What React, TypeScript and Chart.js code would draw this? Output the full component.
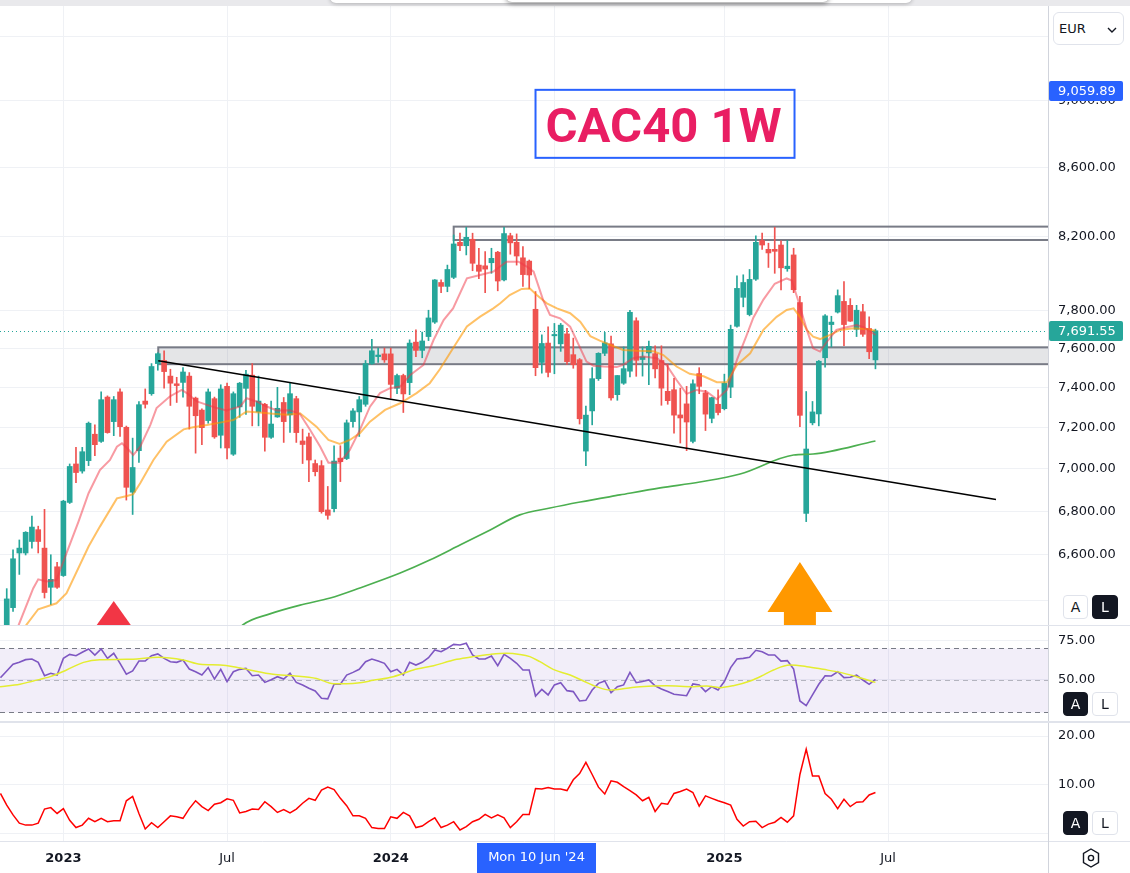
import React, { useEffect, useRef } from 'react';
import { Chart, registerables } from 'chart.js';

Chart.register(...registerables);

// ---------------- data ----------------
// week index: 0 = week of Mon 2 Jan 2023; first candle = week of Mon 31 Oct 2022
const FIRST_WEEK = -9;

const opens = [
  6250, 6367, 6609, 6609, 6661, 6715, 6631, 6456, 6547,
  6508, 6841, 7023, 6989, 7039, 7167, 7132, 7351, 7229, 7377,
  7201, 6889, 7087, 7331, 7368, 7521, 7537, 7457, 7418, 7425,
  7457, 7346, 7286, 7234, 7343, 7162, 7405, 7070, 7302, 7395,
  7462, 7277, 7315, 7152, 7252, 7324, 7262, 7343, 7134, 7154,
  7025, 7015, 6806, 6812, 7051, 7049, 7229, 7277, 7315, 7521,
  7557, 7571, 7571, 7395, 7460, 7424, 7632, 7589, 7661, 7737,
  7949, 7928, 7977, 8170, 8151, 8187, 8044, 8040, 8057, 8115,
  7963, 8207, 8170, 8084, 8066, 7805, 7527, 7627, 7665, 7623,
  7675, 7567, 7541, 7085, 7282, 7444, 7574, 7623, 7363, 7421,
  7482, 7744, 7542, 7576, 7572, 7537, 7380, 7388, 7262, 7317,
  7132, 7470, 7372, 7245, 7315, 7293, 7401, 7715, 7869, 7777,
  7967, 8180, 8131, 8131, 8155, 8024, 8100, 7841, 6790, 7223,
  7267, 7551, 7724, 7790, 7847, 7826, 7699, 7792, 7703, 7540,
];
const highs = [
  6450, 6623, 6668, 6706, 6778, 6731, 6809, 6601, 6567,
  6851, 7023, 7103, 7103, 7227, 7213, 7377, 7357, 7354, 7392,
  7207, 7148, 7329, 7392, 7521, 7577, 7587, 7492, 7451, 7500,
  7475, 7351, 7292, 7392, 7351, 7413, 7421, 7377, 7425, 7487,
  7521, 7457, 7320, 7331, 7400, 7349, 7424, 7355, 7192, 7172,
  7042, 7039, 6916, 7111, 7111, 7237, 7293, 7354, 7537, 7647,
  7601, 7601, 7601, 7467, 7467, 7644, 7696, 7684, 7800, 7965,
  7963, 8044, 8211, 8221, 8254, 8221, 8137, 8118, 8137, 8120,
  8254, 8221, 8217, 8146, 8072, 7900, 7670, 7712, 7730, 7730,
  7704, 7653, 7547, 7306, 7500, 7577, 7683, 7664, 7460, 7607,
  7800, 7760, 7607, 7638, 7613, 7613, 7519, 7446, 7396, 7405,
  7438, 7500, 7385, 7350, 7388, 7467, 7721, 7985, 7991, 8020,
  8206, 8221, 8165, 8254, 8178, 8180, 8137, 7874, 7379, 7329,
  7537, 7777, 7768, 7909, 7954, 7862, 7826, 7831, 7765, 7700,
];
const lows = [
  6200, 6351, 6513, 6600, 6631, 6609, 6409, 6380, 6451,
  6504, 6836, 6934, 6979, 7015, 7063, 7127, 7172, 7160, 7156,
  6852, 6785, 7031, 7296, 7360, 7487, 7396, 7309, 7324, 7351,
  7192, 7075, 7116, 7221, 7147, 7100, 7047, 7064, 7250, 7265,
  7208, 7208, 7085, 7147, 7250, 7127, 7176, 7127, 7025, 6939,
  6966, 6791, 6763, 6797, 6939, 7044, 7201, 7156, 7305, 7517,
  7527, 7527, 7346, 7368, 7274, 7363, 7557, 7551, 7640, 7730,
  7894, 7899, 7970, 8124, 8100, 8013, 7970, 7894, 7999, 7904,
  7957, 8104, 8044, 7928, 7915, 7459, 7472, 7453, 7469, 7584,
  7517, 7497, 7217, 7015, 7213, 7435, 7562, 7335, 7335, 7415,
  7453, 7456, 7457, 7413, 7448, 7310, 7315, 7172, 7124, 7087,
  7125, 7368, 7185, 7223, 7262, 7287, 7348, 7710, 7818, 7770,
  7960, 8131, 8031, 7999, 7909, 8010, 7894, 7204, 6752, 7213,
  7208, 7502, 7607, 7785, 7613, 7740, 7661, 7662, 7546, 7494,
];
const closes = [
  6405, 6583, 6631, 6703, 6727, 6661, 6433, 6491, 6456,
  6847, 7011, 6982, 7082, 7221, 7116, 7338, 7175, 7338, 7204,
  6912, 7006, 7313, 7315, 7506, 7572, 7480, 7421, 7409, 7478,
  7305, 7258, 7199, 7377, 7154, 7392, 7100, 7368, 7421, 7467,
  7305, 7331, 7152, 7217, 7295, 7229, 7368, 7175, 7117, 7042,
  6986, 6798, 6781, 7037, 7034, 7223, 7282, 7338, 7521, 7587,
  7565, 7540, 7415, 7460, 7367, 7627, 7589, 7638, 7759, 7963,
  7928, 8020, 8161, 8151, 8198, 8054, 8010, 8022, 8081, 7957,
  8219, 8167, 8094, 7992, 7990, 7500, 7625, 7476, 7672, 7721,
  7531, 7515, 7243, 7261, 7444, 7574, 7628, 7347, 7460, 7495,
  7789, 7538, 7556, 7610, 7494, 7396, 7333, 7261, 7247, 7227,
  7418, 7405, 7266, 7348, 7274, 7421, 7699, 7917, 7949, 7966,
  8170, 8155, 8111, 8120, 8029, 8038, 7910, 7260, 7095, 7277,
  7533, 7770, 7737, 7878, 7724, 7742, 7800, 7673, 7582, 7691.55,
];
const LAST_PRICE = 7691.55;

// fast moving average (pink), [week, price]
const emaFast: [number, number][] = [
  [-8.5, 6200], [-7.1, 6292], [-4.8, 6451], [-4.0, 6491], [-2.7, 6482], [-1.1, 6488], [0.5, 6608], [2.4, 6752],
  [4.0, 6884], [5.8, 6994], [7.4, 7042], [8.5, 7106], [9.3, 7123], [10.1, 7100], [11.1, 7066], [12.2, 7106],
  [13.8, 7212], [14.8, 7296], [16.9, 7354], [18.8, 7387], [19.6, 7371], [21.2, 7329], [22.8, 7312], [24.4, 7296],
  [25.9, 7284], [28.1, 7304], [29.1, 7345], [30.7, 7329], [32.3, 7304], [33.9, 7284], [36.0, 7285], [37.6, 7265],
  [39.2, 7188], [40.8, 7106], [42.1, 7029], [43.9, 7029], [45.5, 7090], [47.1, 7188], [48.7, 7303], [50.3, 7371],
  [51.9, 7396], [53.5, 7404], [55.1, 7463], [57.2, 7514], [58.8, 7643], [60.4, 7748], [61.9, 7810], [64.1, 7972],
  [66.2, 7990], [68.3, 8008], [70.4, 8063], [72.3, 8063], [73.6, 8036], [74.7, 8008], [76.2, 7855], [77.3, 7775],
  [78.9, 7757], [80.5, 7713], [81.5, 7643], [83.1, 7531], [84.2, 7510], [85.8, 7506], [87.9, 7503], [88.9, 7514],
  [90.5, 7549], [92.1, 7557], [94.3, 7549], [95.8, 7514], [97.4, 7437], [99.0, 7367], [100.6, 7387], [102.2, 7378],
  [103.8, 7340], [105.4, 7387], [107.0, 7540], [108.5, 7665], [109.6, 7760], [111.2, 7857], [113.0, 7942], [114.9, 7971],
  [115.7, 7960], [116.7, 7855], [118.1, 7696], [119.1, 7600], [120.2, 7583], [121.3, 7634], [122.8, 7696], [124.4, 7710],
  [126.0, 7722], [127.1, 7710], [128.1, 7690], [129.0, 7669],
];
// slow moving average (orange)
const emaSlow: [number, number][] = [
  [-7.0, 6230], [-5.9, 6292], [-4.0, 6360], [-1.1, 6386], [0.5, 6430], [4.0, 6638], [5.8, 6729], [8.5, 6860],
  [10.1, 6871], [11.1, 6880], [12.2, 6931], [14.3, 7042], [16.4, 7131], [19.1, 7191], [20.6, 7201], [22.8, 7212],
  [24.9, 7224], [27.0, 7237], [29.1, 7279], [31.2, 7274], [33.3, 7268], [35.5, 7263], [37.6, 7270], [40.2, 7204],
  [42.1, 7139], [43.9, 7120], [45.5, 7139], [47.1, 7172], [48.7, 7229], [51.1, 7287], [53.5, 7320], [56.1, 7371],
  [58.2, 7421], [59.8, 7492], [61.9, 7600], [64.1, 7714], [66.2, 7766], [68.3, 7810], [69.4, 7837], [70.9, 7881],
  [72.8, 7914], [74.1, 7917], [75.2, 7881], [76.8, 7837], [78.4, 7810], [80.5, 7784], [82.1, 7739], [83.7, 7663],
  [85.2, 7640], [88.9, 7591], [91.1, 7587], [93.7, 7585], [95.3, 7565], [97.4, 7506], [99.5, 7469], [101.7, 7456],
  [103.8, 7426], [105.4, 7426], [107.0, 7514], [109.1, 7574], [111.2, 7696], [113.3, 7765], [114.9, 7801], [116.0, 7810],
  [117.0, 7765], [118.1, 7696], [119.1, 7661], [120.2, 7648], [121.8, 7670], [123.4, 7696], [125.5, 7705], [127.6, 7701],
  [129.0, 7692],
];
// long moving average (green)
const maLong: [number, number][] = [
  [27.5, 6260], [28.5, 6292], [32.8, 6340], [37.6, 6378], [42.4, 6409], [47.1, 6453], [53.5, 6519], [58.2, 6577],
  [63.0, 6645], [67.8, 6714], [72.5, 6783], [77.3, 6815], [82.1, 6843], [88.4, 6876], [94.8, 6909], [101.1, 6937],
  [107.5, 6975], [116.0, 7066], [119.1, 7071], [129.0, 7134],
];
// drawings
const trendLine: [number, number][] = [[15.07, 7536], [148.15, 6855]];
const supportZone = { fromWeek: 15.07, top: 7605, bottom: 7518 };
const highZone = { fromWeek: 62, top: 8258, bottom: 8183 };
const titleNote = { week: 75, price: 9059.89, text: 'CAC40 1W' };
const crosshairWeek = 75;
const crosshairText = "Mon 10 Jun '24";
const redMarker = { week: 8, price: 6396 };
const orangeArrow = { week: 117, price: 6568 };

// RSI pane, weekly from week -10
const RSI_START = -10;
const rsiValues = [
  51.5, 55.7, 59.9, 61.1, 62.8, 63.2, 61.1, 52.7, 54.2, 53.1,
  63.6, 66.1, 65.3, 67.4, 69.5, 65.7, 69.5, 63.6, 66.8, 60.5,
  53.6, 55.7, 61.9, 61.9, 65.3, 66.4, 63.6, 61.5, 61.1, 62.6,
  56.9, 55.2, 53.1, 57.8, 50.6, 56.7, 49.0, 55.2, 56.7, 57.3,
  52.7, 53.1, 48.5, 50.2, 52.1, 50.6, 54.2, 48.5, 46.9, 44.8,
  43.1, 38.5, 38.1, 47.3, 47.3, 53.1, 54.8, 56.7, 61.5, 63.2,
  61.9, 60.5, 55.2, 56.7, 53.1, 61.1, 59.4, 61.1, 64.0, 68.9,
  67.8, 70.0, 72.4, 72.0, 73.1, 65.7, 63.2, 63.2, 65.1, 59.0,
  66.1, 63.6, 60.5, 56.3, 56.3, 39.9, 44.1, 40.6, 46.9, 48.3,
  43.3, 42.7, 36.8, 37.2, 43.7, 47.9, 49.4, 42.0, 45.8, 46.9,
  54.8, 48.3, 49.0, 50.0, 46.4, 44.3, 42.7, 41.0, 40.6, 40.1,
  47.5, 46.9, 42.7, 45.8, 43.7, 49.0, 57.8, 63.2, 63.6, 64.3,
  68.7, 67.8, 65.7, 65.7, 61.9, 62.2, 56.9, 36.8, 33.9, 40.6,
  47.3, 52.7, 52.5, 55.2, 51.5, 51.7, 53.1, 50.0, 47.3, 50.4,
];
const rsiMa: [number, number][] = [
  [-10.07, 45.8], [-6.9, 47.3], [-4.8, 49.4], [-2.1, 52.1], [0.5, 56.3], [3.2, 61.1], [5.8, 62.8], [10.05, 63.0],
  [13.8, 64.0], [15.1, 64.3], [19.05, 62.6], [21.7, 59.9], [24.9, 59.4], [27.0, 58.4], [29.6, 56.3], [33.3, 53.6],
  [36.5, 52.7], [40.2, 51.0], [42.9, 47.7], [45.0, 47.7], [47.1, 48.3], [49.2, 49.8], [52.4, 52.1], [55.6, 56.3],
  [58.8, 59.0], [61.4, 61.9], [62.5, 63.0], [65.1, 64.7], [67.8, 66.1], [70.4, 66.8], [72.5, 66.1], [74.1, 64.7],
  [75.7, 61.5], [77.8, 56.7], [80.5, 53.1], [82.6, 49.4], [84.7, 45.8], [86.8, 43.7], [89.5, 44.8], [91.6, 45.8],
  [95.8, 46.4], [100.1, 45.8], [102.2, 46.2], [104.3, 45.2], [106.4, 46.4], [109.1, 49.4], [111.2, 53.1], [112.8, 56.3],
  [115.4, 59.4], [118.1, 58.4], [120.7, 56.7], [123.4, 54.8], [126.0, 52.1], [129.0, 48.5],
];
const rsiBands = { upper: 70, middle: 50, lower: 30 };

// lower indicator pane (red line), weekly from week -10
const LOWER_START = -10;
const lowerValues = [
  8.2, 5.8, 3.8, 2.1, 1.7, 1.7, 2.1, 5.0, 5.3, 4.1,
  5.1, 2.7, 1.2, 1.7, 3.1, 2.4, 3.1, 2.4, 2.6, 2.6,
  6.7, 7.6, 4.1, 0.9, 2.2, 1.2, 2.4, 3.6, 3.4, 3.1,
  5.1, 6.7, 5.5, 4.7, 6.0, 6.3, 7.1, 6.8, 4.2, 4.5,
  5.0, 4.9, 6.5, 5.5, 4.3, 4.9, 4.2, 5.0, 6.2, 7.2,
  6.8, 8.9, 9.5, 9.0, 7.2, 5.7, 3.6, 3.6, 3.1, 1.2,
  1.0, 1.0, 3.4, 3.1, 4.3, 3.6, 1.2, 1.5, 2.4, 3.2,
  1.2, 1.7, 2.4, 0.7, 1.4, 2.4, 2.9, 3.9, 3.2, 3.8,
  3.2, 1.2, 2.4, 3.9, 3.9, 9.2, 9.1, 9.4, 9.1, 9.1,
  8.8, 11.0, 12.3, 14.6, 12.1, 9.5, 8.1, 10.8, 10.5, 9.6,
  8.8, 7.9, 6.7, 7.4, 4.5, 6.2, 6.0, 8.2, 8.6, 9.1,
  8.4, 5.6, 7.7, 7.2, 6.7, 6.3, 5.8, 2.9, 1.5, 2.4,
  2.5, 1.2, 1.9, 2.3, 3.3, 2.3, 3.6, 12.1, 17.3, 11.8,
  11.8, 8.2, 7.0, 5.1, 7.0, 5.5, 6.4, 6.5, 7.9, 8.4,
];

// axes
const xTickWeeks = [0, 26, 52, 78, 105, 131];
const xTickLabels = ['2023', 'Jul', '2024', 'Jul', '2025', 'Jul'];
const priceGrid = [6400, 6600, 6800, 7000, 7200, 7400, 7600, 7800, 8200, 8600, 9000, 9400];
const priceLabels = [6600, 6800, 7000, 7200, 7400, 7600, 7800, 8200, 8600, 9000];
const rsiGrid = [50, 75];
const lowerGrid = [0, 10, 20];
const lowerLabels = [10, 20];

const X_MIN = -10.07;
const X_MAX = 156.41;
const PRICE_MIN = 6292;
const PRICE_MAX = 9600;
const RSI_MIN = 24.21;
const RSI_MAX = 83.96;
const LOW_MIN = -1.56;
const LOW_MAX = 22.67;

// ---------------- styling ----------------
const FONT = "'DejaVu Sans', sans-serif";
const UP = '#26A69A';
const DOWN = '#EF5350';
const GRID = '#EFF1F5';
const AXIS = '#D1D4DC';
const SEP = '#E0E3EB';
const TEXT = '#131722';

const fmt2 = (v: number) =>
  Number(v).toLocaleString('en-US', { minimumFractionDigits: 2, maximumFractionDigits: 2 });

function xAxis(showLabels: boolean): any {
  return {
    type: 'linear',
    min: X_MIN,
    max: X_MAX,
    bounds: 'data',
    offset: false,
    grid: { color: GRID, offset: false, drawTicks: false },
    border: { display: showLabels, color: SEP },
    afterBuildTicks: (s: any) => {
      s.ticks = xTickWeeks.map((v) => ({ value: v }));
    },
    ticks: showLabels
      ? {
          display: true,
          autoSkip: false,
          maxRotation: 0,
          padding: 10,
          color: TEXT,
          callback: (v: any) => {
            const i = xTickWeeks.indexOf(Number(v));
            return i >= 0 ? xTickLabels[i] : '';
          },
          font: (ctx: any) => {
            const v = ctx && ctx.tick ? ctx.tick.value : null;
            const i = xTickWeeks.indexOf(Number(v));
            const lbl = i >= 0 ? xTickLabels[i] : '';
            return { family: FONT, size: 13, weight: /^\d{4}$/.test(lbl) ? 'bold' : 'normal' };
          },
        }
      : { display: false },
    afterFit: (s: any) => {
      s.height = showLabels ? 32 : 0;
      s.paddingLeft = 0;
      s.paddingRight = 0;
    },
  };
}

function yAxis(type: string, min: number, max: number, grid: number[], labels: number[]): any {
  return {
    type,
    position: 'right',
    min,
    max,
    bounds: 'data',
    grid: { color: GRID, drawTicks: false },
    border: { display: true, color: AXIS },
    afterBuildTicks: (s: any) => {
      s.ticks = grid.map((v) => ({ value: v }));
    },
    ticks: {
      autoSkip: false,
      padding: 10,
      color: TEXT,
      font: { family: FONT, size: 13 },
      callback: (v: any) => (labels.indexOf(Number(v)) >= 0 ? fmt2(Number(v)) : ''),
    },
    afterFit: (s: any) => {
      s.width = 82;
      s.paddingTop = 0;
      s.paddingBottom = 0;
    },
  };
}

const baseOptions = {
  responsive: false,
  animation: false as const,
  events: [] as any[],
  layout: { padding: 0 },
  plugins: { legend: { display: false }, tooltip: { enabled: false } },
};

const lineDs = (pts: { x: number; y: number }[], color: string, width: number, order: number, smooth = false): any => ({
  type: 'line',
  data: pts,
  borderColor: color,
  borderWidth: width,
  pointRadius: 0,
  tension: 0,
  cubicInterpolationMode: smooth ? 'monotone' : 'default',
  fill: false,
  order,
});

const pairs = (arr: [number, number][]) => arr.map(([x, y]) => ({ x, y }));

function priceTag(ctx: any, area: any, py: number, text: string, bg: string) {
  const y0 = Math.round(py) - 10;
  ctx.fillStyle = bg;
  ctx.beginPath();
  if (ctx.roundRect) ctx.roundRect(area.right + 1, y0, 74, 20, 2);
  else ctx.rect(area.right + 1, y0, 74, 20);
  ctx.fill();
  ctx.fillStyle = '#ffffff';
  ctx.font = `13px ${FONT}`;
  ctx.textAlign = 'left';
  ctx.textBaseline = 'middle';
  ctx.fillText(text, area.right + 10, y0 + 10.5);
}

const mainPlugin = {
  id: 'mainDrawings',
  beforeDatasetsDraw(chart: any) {
    const { ctx, chartArea: a, scales } = chart;
    const x = scales.x;
    const y = scales.y;
    ctx.save();
    ctx.beginPath();
    ctx.rect(a.left, a.top, a.right - a.left, a.bottom - a.top);
    ctx.clip();
    const box = (b: any, fill: string | null) => {
      const x0 = x.getPixelForValue(b.fromWeek);
      const y0 = y.getPixelForValue(b.top);
      const y1 = y.getPixelForValue(b.bottom);
      if (fill) {
        ctx.fillStyle = fill;
        ctx.fillRect(x0, y0, a.right - x0 + 10, y1 - y0);
      }
      ctx.strokeStyle = '#787B86';
      ctx.lineWidth = 2;
      ctx.strokeRect(x0, y0, a.right - x0 + 10, y1 - y0);
    };
    box(supportZone, 'rgba(120,123,134,0.2)');
    box(highZone, null);
    // last price line
    const py = Math.round(y.getPixelForValue(LAST_PRICE)) + 0.5;
    ctx.strokeStyle = UP;
    ctx.lineWidth = 1;
    ctx.setLineDash([1, 3]);
    ctx.beginPath();
    ctx.moveTo(a.left, py);
    ctx.lineTo(a.right, py);
    ctx.stroke();
    ctx.restore();
  },
  afterDatasetsDraw(chart: any) {
    const { ctx, chartArea: a, scales } = chart;
    const x = scales.x;
    const y = scales.y;
    ctx.save();
    ctx.beginPath();
    ctx.rect(a.left, a.top, a.right - a.left, a.bottom - a.top);
    ctx.clip();
    // red triangle marker
    const rx = x.getPixelForValue(redMarker.week);
    const ry = y.getPixelForValue(redMarker.price);
    ctx.fillStyle = '#F23645';
    ctx.beginPath();
    ctx.moveTo(rx, ry);
    ctx.lineTo(rx + 22, ry + 31);
    ctx.lineTo(rx - 22, ry + 31);
    ctx.closePath();
    ctx.fill();
    // orange arrow
    const ox = x.getPixelForValue(orangeArrow.week);
    const oy = y.getPixelForValue(orangeArrow.price);
    ctx.fillStyle = '#FF9800';
    ctx.beginPath();
    ctx.moveTo(ox, oy);
    ctx.lineTo(ox + 32.5, oy + 50);
    ctx.lineTo(ox + 16, oy + 50);
    ctx.lineTo(ox + 16, oy + 90);
    ctx.lineTo(ox - 16, oy + 90);
    ctx.lineTo(ox - 16, oy + 50);
    ctx.lineTo(ox - 32.5, oy + 50);
    ctx.closePath();
    ctx.fill();
    // title note
    const tx = x.getPixelForValue(titleNote.week);
    const ty = y.getPixelForValue(titleNote.price);
    ctx.strokeStyle = '#2962FF';
    ctx.lineWidth = 2;
    ctx.strokeRect(tx, ty - 1, 259, 68);
    ctx.fillStyle = '#E91E63';
    ctx.font = "bold 49px Roboto, 'DejaVu Sans', sans-serif";
    ctx.textAlign = 'left';
    ctx.textBaseline = 'alphabetic';
    ctx.fillText(titleNote.text, tx + 10, ty + 51);
    ctx.restore();
  },
  afterDraw(chart: any) {
    const { ctx, chartArea: a, scales } = chart;
    const y = scales.y;
    ctx.save();
    priceTag(ctx, a, y.getPixelForValue(titleNote.price), fmt2(titleNote.price), '#2962FF');
    priceTag(ctx, a, y.getPixelForValue(LAST_PRICE), fmt2(LAST_PRICE), UP);
    ctx.restore();
  },
};

const rsiPlugin = {
  id: 'rsiBand',
  beforeDatasetsDraw(chart: any) {
    const { ctx, chartArea: a, scales } = chart;
    const y = scales.y;
    const yu = Math.round(y.getPixelForValue(rsiBands.upper)) + 0.5;
    const ym = Math.round(y.getPixelForValue(rsiBands.middle)) + 0.5;
    const yl = Math.round(y.getPixelForValue(rsiBands.lower)) + 0.5;
    ctx.save();
    ctx.fillStyle = 'rgba(126,87,194,0.1)';
    ctx.fillRect(a.left, yu, a.right - a.left, yl - yu);
    ctx.lineWidth = 1;
    ctx.setLineDash([5, 4]);
    ctx.strokeStyle = '#787B86';
    [yu, yl].forEach((yy) => {
      ctx.beginPath();
      ctx.moveTo(a.left, yy);
      ctx.lineTo(a.right, yy);
      ctx.stroke();
    });
    ctx.strokeStyle = 'rgba(120,123,134,0.5)';
    ctx.beginPath();
    ctx.moveTo(a.left, ym);
    ctx.lineTo(a.right, ym);
    ctx.stroke();
    ctx.restore();
  },
};

const crosshairPlugin = {
  id: 'crosshairLabel',
  afterDraw(chart: any) {
    const { ctx, chartArea: a, scales } = chart;
    const cx = scales.x.getPixelForValue(crosshairWeek);
    ctx.save();
    ctx.fillStyle = '#2962FF';
    ctx.fillRect(Math.round(cx - 59), a.bottom + 2, 119, chart.height - a.bottom - 2);
    ctx.fillStyle = '#ffffff';
    ctx.font = `13px ${FONT}`;
    ctx.textAlign = 'center';
    ctx.textBaseline = 'middle';
    ctx.fillText(crosshairText, cx + 1, a.bottom + 17);
    ctx.restore();
  },
};

function buildMain(canvas: HTMLCanvasElement) {
  const xs = closes.map((_, i) => FIRST_WEEK + i);
  const colors = closes.map((c, i) => (c >= opens[i] ? UP : DOWN));
  return new Chart(canvas, {
    type: 'line',
    data: {
      datasets: [
        {
          type: 'bar',
          data: xs.map((x, i) => ({ x, y: [lows[i], highs[i]] })),
          backgroundColor: colors,
          barThickness: 1,
          grouped: false,
          order: 10,
        } as any,
        {
          type: 'bar',
          data: xs.map((x, i) => ({
            x,
            y: [Math.min(opens[i], closes[i]), Math.max(opens[i], closes[i])],
          })),
          backgroundColor: colors,
          barThickness: 5,
          grouped: false,
          minBarLength: 1,
          order: 9,
        } as any,
        lineDs(pairs(emaSlow), 'rgba(255,152,0,0.6)', 2, 4),
        lineDs(pairs(emaFast), 'rgba(242,54,69,0.5)', 2, 3),
        lineDs(pairs(maLong), '#4CAF50', 1.7, 2, true),
        lineDs(pairs(trendLine), '#000000', 1.5, 1),
      ],
    },
    options: {
      ...baseOptions,
      scales: {
        x: xAxis(false),
        y: yAxis('logarithmic', PRICE_MIN, PRICE_MAX, priceGrid, priceLabels),
      },
    } as any,
    plugins: [mainPlugin],
  });
}

function buildRsi(canvas: HTMLCanvasElement) {
  return new Chart(canvas, {
    type: 'line',
    data: {
      datasets: [
        lineDs(rsiValues.map((v, i) => ({ x: RSI_START + i, y: v })), '#7E57C2', 1.6, 2),
        lineDs(pairs(rsiMa), '#E4ED30', 1.5, 1, true),
      ],
    },
    options: {
      ...baseOptions,
      scales: {
        x: xAxis(false),
        y: yAxis('linear', RSI_MIN, RSI_MAX, rsiGrid, rsiGrid),
      },
    } as any,
    plugins: [rsiPlugin],
  });
}

function buildLower(canvas: HTMLCanvasElement) {
  return new Chart(canvas, {
    type: 'line',
    data: {
      datasets: [lineDs(lowerValues.map((v, i) => ({ x: LOWER_START + i, y: v })), '#FF0000', 1.5, 1)],
    },
    options: {
      ...baseOptions,
      scales: {
        x: xAxis(true),
        y: yAxis('linear', LOW_MIN, LOW_MAX, lowerGrid, lowerLabels),
      },
    } as any,
    plugins: [crosshairPlugin],
  });
}

const abs = (l: number, t: number, w: number, h: number, extra: any = {}): React.CSSProperties => ({
  position: 'absolute',
  left: l,
  top: t,
  width: w,
  height: h,
  boxSizing: 'border-box',
  ...extra,
});

function ScaleButtons({ top, active }: { top: number; active: 'A' | 'L' }) {
  const btn = (label: 'A' | 'L', left: number, w: number) => {
    const on = active === label;
    return (
      <div
        style={abs(left, top, w, 24, {
          border: `1px solid ${on ? TEXT : SEP}`,
          borderRadius: 4,
          background: on ? TEXT : '#ffffff',
          color: on ? '#ffffff' : TEXT,
          fontSize: 14,
          lineHeight: '22px',
          textAlign: 'center',
          fontFamily: FONT,
        })}
      >
        {label}
      </div>
    );
  };
  return (
    <>
      {btn('A', 1063, 25)}
      {btn('L', 1092, 26)}
    </>
  );
}

export default function App() {
  const mainRef = useRef<HTMLCanvasElement>(null);
  const rsiRef = useRef<HTMLCanvasElement>(null);
  const lowRef = useRef<HTMLCanvasElement>(null);

  useEffect(() => {
    Chart.defaults.font.family = FONT;
    Chart.defaults.color = TEXT;
    const charts = [
      buildMain(mainRef.current as HTMLCanvasElement),
      buildRsi(rsiRef.current as HTMLCanvasElement),
      buildLower(lowRef.current as HTMLCanvasElement),
    ];
    return () => charts.forEach((c) => c.destroy());
  }, []);

  return (
    <div style={abs(0, 0, 1130, 873, { background: '#ffffff', overflow: 'hidden', fontFamily: FONT })}>
      <canvas ref={mainRef} width={1130} height={619} style={abs(0, 6, 1130, 619, { display: 'block' })} />
      <canvas ref={rsiRef} width={1130} height={95} style={abs(0, 626, 1130, 95, { display: 'block' })} />
      <canvas ref={lowRef} width={1130} height={150} style={abs(0, 723, 1130, 150, { display: 'block' })} />

      {/* window frame / floating toolbars */}
      <div style={abs(0, 0, 1130, 6, { background: '#E9E9EC' })} />
      <div style={abs(330, -12, 582, 15, { background: '#ffffff', borderRadius: 6, boxShadow: '0 1px 4px rgba(0,0,0,0.25)' })} />
      <div style={abs(506, -12, 323, 14, { background: '#ffffff', borderRadius: 6, boxShadow: '0 2px 5px rgba(0,0,0,0.35)' })} />

      {/* pane separators */}
      <div style={abs(0, 625, 1130, 1, { background: SEP })} />
      <div style={abs(0, 721, 1130, 2, { background: SEP })} />
      <div style={abs(1048, 841, 82, 1, { background: SEP })} />
      <div style={abs(1048, 841, 1, 32, { background: AXIS })} />

      {/* currency selector */}
      <div
        style={abs(1053, 12, 71, 33, {
          border: `1px solid ${SEP}`,
          borderRadius: 6,
          background: '#ffffff',
          color: TEXT,
          fontSize: 13,
          lineHeight: '31px',
          paddingLeft: 5,
        })}
      >
        EUR
        <svg width="10" height="6" viewBox="0 0 10 6" style={{ position: 'absolute', right: 6, top: 14 }}>
          <polyline points="1,1 5,5 9,1" fill="none" stroke={TEXT} strokeWidth="1.4" />
        </svg>
      </div>

      <ScaleButtons top={595} active="L" />
      <ScaleButtons top={692} active="A" />
      <ScaleButtons top={811} active="A" />

      {/* settings icon */}
      <svg width="22" height="22" viewBox="0 0 22 22" style={{ position: 'absolute', left: 1080, top: 847 }}>
        <polygon points="11,2 18.5,6.5 18.5,15.5 11,20 3.5,15.5 3.5,6.5" fill="none" stroke={TEXT} strokeWidth="1.4" />
        <circle cx="11" cy="11" r="2.6" fill="none" stroke={TEXT} strokeWidth="1.4" />
      </svg>
    </div>
  );
}
